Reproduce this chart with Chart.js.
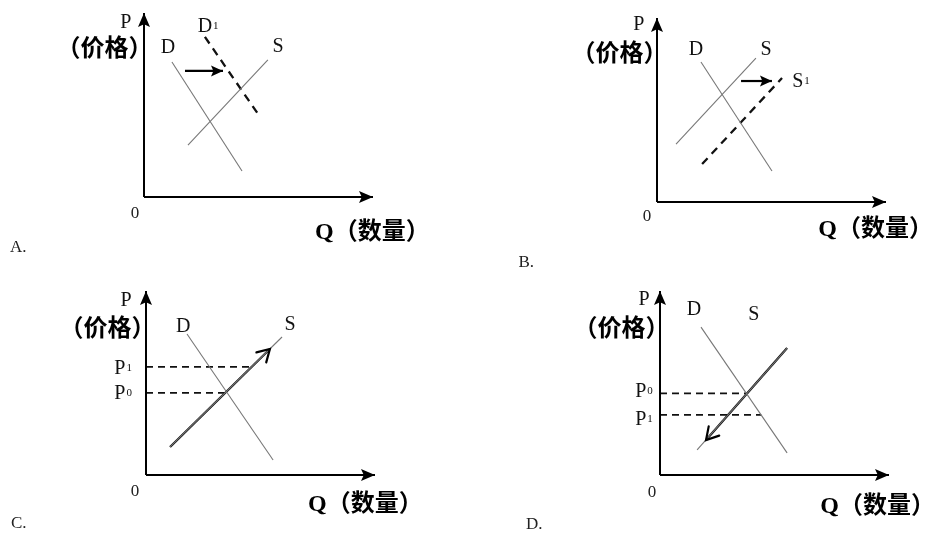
<!DOCTYPE html>
<html>
<head>
<meta charset="utf-8">
<script src="https://cdn.jsdelivr.net/npm/chart.js@4/dist/chart.umd.min.js"></script>
<style>
    html, body { margin: 0; padding: 0; background: #fff; }
    #wrap { position: relative; width: 928px; height: 534px; overflow: hidden; }
    .panel { position: absolute; width: 464px; height: 267px; }
</style>
</head>
<body>
<div id="wrap">
    <div class="panel" style="left:0;top:0"><canvas id="chart-a" width="464" height="267"></canvas></div>
    <div class="panel" style="left:464px;top:0"><canvas id="chart-b" width="464" height="267"></canvas></div>
    <div class="panel" style="left:0;top:267px"><canvas id="chart-c" width="464" height="267"></canvas></div>
    <div class="panel" style="left:464px;top:267px"><canvas id="chart-d" width="464" height="267"></canvas></div>
</div>
<script>
// Axis ranges (Q horizontally, P vertically), same for every panel
const qRange = [0, 10];
const pRange = [0, 8];

// Panel A: demand shifts right
const aDemand = [[1.22, 5.87], [4.28, 1.13]];
const aDemand1 = [[2.66, 6.96], [5.07, 3.48]];
const aSupply = [[1.92, 2.26], [5.41, 5.96]];
const aShift = [[1.79, 5.48], [3.45, 5.48]];

// Panel B: supply shifts right
const bDemand = [[1.92, 6.09], [5.02, 1.35]];
const bSupply = [[0.83, 2.52], [4.32, 6.26]];
const bSupply1 = [[1.97, 1.65], [5.46, 5.39]];
const bShift = [[3.67, 5.26], [5.02, 5.26]];

// Panel C: movement up along supply
const cDemand = [[1.79, 6.13], [5.55, 0.65]];
const cSupply = [[1.05, 1.22], [5.94, 6.0]];
const cMove = [[1.05, 1.22], [5.41, 5.48]];
const cP1 = [[0, 4.7], [4.54, 4.7]];
const cP0 = [[0, 3.57], [3.52, 3.57]];

// Panel D: movement down along supply
const dDemand = [[1.79, 6.43], [5.55, 0.96]];
const dSupply = [[5.55, 5.52], [1.62, 1.09]];
const dMove = [[5.55, 5.52], [2.01, 1.52]];
const dP0 = [[0, 3.55], [3.79, 3.55]];
const dP1 = [[0, 2.61], [4.42, 2.61]];

// Text labels: [main, subscript, q, p]
const aLabels = [['P', '', -0.79, 7.57], ['D', '', 1.05, 6.48], ['D', '1', 2.8, 7.39], ['S', '', 5.85, 6.52]];
const bLabels = [['P', '', -0.79, 7.7], ['D', '', 1.7, 6.6], ['S', '', 4.76, 6.6], ['S', '1', 6.29, 5.22]];
const cLabels = [['P', '', -0.87, 7.57], ['D', '', 1.62, 6.43], ['S', '', 6.29, 6.52], ['P', '1', -1.0, 4.6], ['P', '0', -1.0, 3.52]];
const dLabels = [['P', '', -0.7, 7.6], ['D', '', 1.48, 7.17], ['S', '', 4.1, 6.96], ['P', '0', -0.7, 3.6], ['P', '1', -0.7, 2.39]];

const toPts = arr => arr.map(([x, y]) => ({ x, y }));

const SERIF = '"Liberation Serif", "DejaVu Serif", serif';
const CJK = '"Liberation Serif", "Noto Sans CJK SC", sans-serif';

// arrow heads at the last point of a dataset
const arrowPlugin = {
    id: 'arrowHeads',
    afterDatasetsDraw(chart) {
        const ctx = chart.ctx;
        chart.data.datasets.forEach((ds, i) => {
            if (!ds.arrowHead) return;
            const pts = chart.getDatasetMeta(i).data;
            const tip = pts[pts.length - 1];
            const prev = pts[pts.length - 2];
            const ang = Math.atan2(tip.y - prev.y, tip.x - prev.x);
            const len = ds.arrowLen || 12;
            const half = ds.arrowHalf || 5;
            ctx.save();
            ctx.translate(tip.x, tip.y);
            ctx.rotate(ang);
            ctx.beginPath();
            if (ds.arrowHead === 'open') {
                ctx.moveTo(-len, -half);
                ctx.lineTo(0, 0);
                ctx.lineTo(-len, half);
                ctx.strokeStyle = ds.borderColor;
                ctx.lineWidth = ds.borderWidth;
                ctx.lineCap = 'round';
                ctx.stroke();
            } else {
                ctx.moveTo(0, 0);
                ctx.lineTo(-len, -half);
                ctx.lineTo(-len * 0.8, 0);
                ctx.lineTo(-len, half);
                ctx.closePath();
                ctx.fillStyle = ds.borderColor;
                ctx.fill();
            }
            ctx.restore();
        });
    }
};

// text labels placed in data units
const labelPlugin = {
    id: 'textLabels',
    afterDraw(chart) {
        const o = chart.options.plugins.textLabels;
        const ctx = chart.ctx;
        const xs = chart.scales.x, ys = chart.scales.y;
        ctx.save();
        ctx.fillStyle = '#111';
        ctx.textBaseline = 'middle';
        o.letters.forEach(([main, sub, q, p]) => {
            const px = xs.getPixelForValue(q), py = ys.getPixelForValue(p);
            ctx.font = '20px ' + SERIF;
            const w1 = ctx.measureText(main).width;
            ctx.font = '11px ' + SERIF;
            const w2 = sub ? ctx.measureText(sub).width + 1 : 0;
            const left = px - (w1 + w2) / 2;
            ctx.textAlign = 'left';
            ctx.font = '20px ' + SERIF;
            ctx.fillText(main, left, py);
            if (sub) {
                ctx.font = '11px ' + SERIF;
                ctx.fillText(sub, left + w1 + 1, py - 1);
            }
        });
        ctx.textAlign = 'center';
        ctx.fillStyle = '#000';
        ctx.font = 'bold 24px ' + CJK;
        ctx.fillText('（价格）', xs.getPixelForValue(o.priceAt[0]), ys.getPixelForValue(o.priceAt[1]));
        ctx.fillText('Q（数量）', xs.getPixelForValue(o.qtyAt[0]), ys.getPixelForValue(o.qtyAt[1]));
        ctx.fillStyle = '#222';
        ctx.font = '17px ' + SERIF;
        ctx.fillText('0', xs.getPixelForValue(o.zeroAt[0]), ys.getPixelForValue(o.zeroAt[1]));
        ctx.textAlign = 'left';
        ctx.fillText(o.tag, xs.getPixelForValue(o.tagAt[0]), ys.getPixelForValue(o.tagAt[1]));
        ctx.restore();
    }
};

function line(points, opts) {
    return Object.assign({
        data: toPts(points),
        showLine: true,
        pointRadius: 0,
        borderColor: '#777',
        borderWidth: 1.1,
        clip: false
    }, opts);
}

function axes() {
    return [
        line([[0, 0], [qRange[1], 0]], { borderColor: '#000', borderWidth: 2, arrowHead: 'fill', arrowLen: 14, arrowHalf: 6 }),
        line([[0, 0], [0, pRange[1]]], { borderColor: '#000', borderWidth: 2, arrowHead: 'fill', arrowLen: 14, arrowHalf: 6 })
    ];
}

const shiftDash = { borderColor: '#111', borderWidth: 2.3, borderDash: [8, 6] };
const priceDash = { borderColor: '#111', borderWidth: 1.7, borderDash: [7, 5] };
const thick = { borderColor: '#000', borderWidth: 2.2 };

function makeChart(id, pad, datasets, labels) {
    return new Chart(document.getElementById(id), {
        type: 'scatter',
        data: { datasets: axes().concat(datasets) },
        options: {
            responsive: false,
            animation: false,
            layout: { padding: pad },
            scales: {
                x: { type: 'linear', display: false, min: qRange[0], max: qRange[1] },
                y: { type: 'linear', display: false, min: pRange[0], max: pRange[1] }
            },
            plugins: { legend: { display: false }, tooltip: { enabled: false }, textLabels: labels }
        },
        plugins: [arrowPlugin, labelPlugin]
    });
}

makeChart('chart-a', { left: 144, top: 13, right: 91, bottom: 70 }, [
    line(aDemand),
    line(aSupply),
    line(aDemand1, shiftDash),
    line(aShift, Object.assign({}, thick, { arrowHead: 'fill', arrowLen: 12, arrowHalf: 5.5 }))
], { letters: aLabels, priceAt: [-1.72, 6.39], qtyAt: [9.97, -1.57], zeroAt: [-0.39, -0.7], tag: 'A.', tagAt: [-5.85, -2.2] });

makeChart('chart-b', { left: 193, top: 18, right: 42, bottom: 65 }, [
    line(bDemand),
    line(bSupply),
    line(bSupply1, shiftDash),
    line(bShift, Object.assign({}, thick, { arrowHead: 'fill', arrowLen: 12, arrowHalf: 5.5 }))
], { letters: bLabels, priceAt: [-1.64, 6.39], qtyAt: [9.55, -1.22], zeroAt: [-0.44, -0.65], tag: 'B.', tagAt: [-6.05, -2.65] });

makeChart('chart-c', { left: 146, top: 24, right: 89, bottom: 59 }, [
    line(cDemand),
    line(cSupply),
    line(cP1, priceDash),
    line(cP0, priceDash),
    line(cMove, Object.assign({}, thick, { arrowHead: 'open', arrowLen: 12, arrowHalf: 7 }))
], { letters: cLabels, priceAt: [-1.68, 6.3], qtyAt: [9.58, -1.3], zeroAt: [-0.48, -0.74], tag: 'C.', tagAt: [-5.9, -2.13] });

makeChart('chart-d', { left: 196, top: 24, right: 39, bottom: 59 }, [
    line(dDemand),
    line(dSupply),
    line(dP0, priceDash),
    line(dP1, priceDash),
    line(dMove, Object.assign({}, thick, { arrowHead: 'open', arrowLen: 12, arrowHalf: 7 }))
], { letters: dLabels, priceAt: [-1.68, 6.3], qtyAt: [9.5, -1.39], zeroAt: [-0.35, -0.78], tag: 'D.', tagAt: [-5.85, -2.17] });
</script>
</body>
</html>
